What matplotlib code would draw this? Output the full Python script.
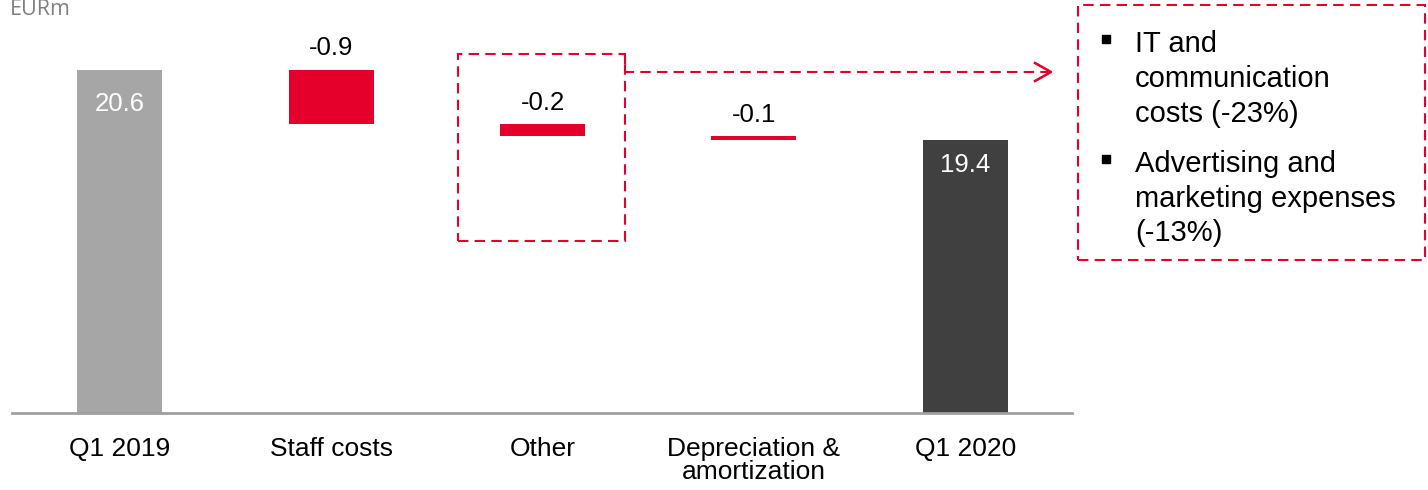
import matplotlib
matplotlib.use("Agg")
import matplotlib.pyplot as plt
from matplotlib.patches import Rectangle
from matplotlib.lines import Line2D

plt.rcParams['font.family'] = ['Liberation Sans', 'DejaVu Sans']

# ---- data ----
categories = ["Q1 2019", "Staff costs", "Other", "Depreciation &\namortization", "Q1 2020"]
values = [20.6, -0.93, -0.21, -0.06, 19.4]
kinds = ["total", "delta", "delta", "delta", "total"]
note_items = [["IT and", "communication", "costs (-23%)"],
              ["Advertising and", "marketing expenses", "(-13%)"]]
unit_label = "EURm"

RED = "#E4002B"
colors = ["#A6A6A6", RED, RED, RED, "#404040"]
# label offset from bar top, in pixels (negative = inside bar)
label_offsets_px = [-34, 22, 21, 21, -25]

W, H = 1428, 490
fig = plt.figure(figsize=(W / 100, H / 100), dpi=100)

def fx(x):
    return x / W

def fy(y):
    return 1 - y / H

# axes placement (pixels)
ax_left, ax_right, ax_bottom, ax_top = 12, 1072, 413, 0
ax = fig.add_axes([fx(ax_left), fy(ax_bottom), fx(ax_right - ax_left), (ax_bottom - ax_top) / H])

px_per_unit = 58.3
y_base = 20.6 - (413 - 70) / px_per_unit
y_top = 20.6 + 70 / px_per_unit
ax.set_ylim(y_base, y_top)
ax.set_xlim(-0.51, 4.505)

xs = list(range(len(categories)))
running = 0.0
bottoms, heights = [], []
for v, k in zip(values, kinds):
    if k == "total":
        bottoms.append(0.0)
        heights.append(v)
        running = v
    else:
        bottoms.append(running + v)
        heights.append(-v)
        running = running + v

ax.bar(xs, heights, bottom=bottoms, width=0.403, color=colors, zorder=2)

for x, b, h, k, v, off in zip(xs, bottoms, heights, kinds, values, label_offsets_px):
    top = b + h
    lab = f"{v:.1f}"
    ax.annotate(lab, (x, top), xytext=(0, off * 0.72), textcoords="offset points",
                ha="center", va="center",
                color="white" if k == "total" else "black", fontsize=18.5)

ax.set_xticks(xs)
ax.set_xticklabels(categories, fontsize=19, linespacing=0.97)
ax.tick_params(axis="x", length=0, pad=17)
ax.set_yticks([])
for s in ["top", "right", "left"]:
    ax.spines[s].set_visible(False)
ax.spines["bottom"].set_color("#A0A0A0")
ax.spines["bottom"].set_linewidth(2)
ax.patch.set_alpha(0)

# unit label
fig.text(fx(10), fy(15), unit_label, fontsize=15.5, color="#808080",
         family=["Open Sans", "DejaVu Sans"], ha="left", va="baseline")

dash = dict(color=RED, lw=1.5, linestyle=(0, (5, 3)))

# dashed box around "Other"
fig.add_artist(Rectangle((fx(458), fy(241)), fx(625 - 458), (241 - 54) / H,
                         fill=False, transform=fig.transFigure, **dash))
# connector
fig.add_artist(Line2D([fx(625), fx(625), fx(1048)], [fy(54), fy(72), fy(72)],
                      transform=fig.transFigure, **dash))
fig.add_artist(Line2D([fx(1035), fx(1051), fx(1035)], [fy(63), fy(72), fy(81)],
                      transform=fig.transFigure, color=RED, lw=1.8))

# note box
fig.add_artist(Rectangle((fx(1078), fy(260)), fx(1425 - 1078), (260 - 5) / H,
                         fill=False, transform=fig.transFigure, **dash))

baselines = [[52, 87, 122], [172, 207, 241]]
for item, bls in zip(note_items, baselines):
    fig.add_artist(Line2D([fx(1106)], [fy(bls[0] - 13)], marker="s", markersize=5.8,
                          color="black", linestyle="none", transform=fig.transFigure))
    for line, bl in zip(item, bls):
        fig.text(fx(1135), fy(bl), line, fontsize=21, ha="left", va="baseline",
                 color="black")

fig.savefig("out.png", dpi=100)
